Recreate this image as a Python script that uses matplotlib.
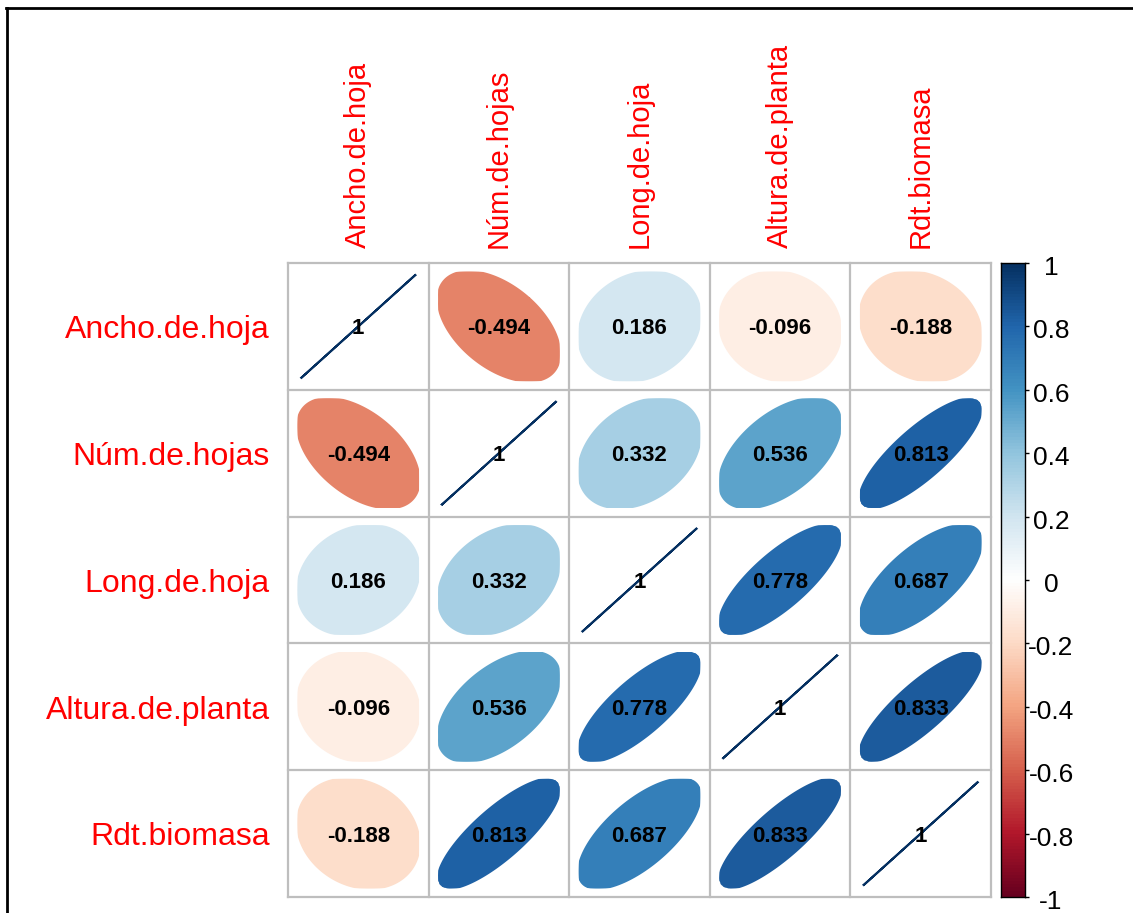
import numpy as np
import matplotlib
matplotlib.use("Agg")
import matplotlib.pyplot as plt
import matplotlib.transforms as mtransforms
from matplotlib.colors import LinearSegmentedColormap
from matplotlib.patches import Polygon, FancyBboxPatch
from matplotlib.lines import Line2D

plt.rcParams['font.family'] = ['Liberation Sans', 'DejaVu Sans']

# Variables and their correlation matrix
variables = ["Ancho.de.hoja", "Núm.de.hojas", "Long.de.hoja",
             "Altura.de.planta", "Rdt.biomasa"]
corr = np.array([
    [1.000, -0.494, 0.186, -0.096, -0.188],
    [-0.494, 1.000, 0.332, 0.536, 0.813],
    [0.186, 0.332, 1.000, 0.778, 0.687],
    [-0.096, 0.536, 0.778, 1.000, 0.833],
    [-0.188, 0.813, 0.687, 0.833, 1.000],
])

# Colour legend ticks
cbar_ticks = [-1, -0.8, -0.6, -0.4, -0.2, 0, 0.2, 0.4, 0.6, 0.8, 1]
cbar_labels = ["-1", "-0.8", "-0.6", "-0.4", "-0.2", "0",
               "0.2", "0.4", "0.6", "0.8", "1"]

# RdBu diverging palette, 200 steps
palette = ["#67001F", "#B2182B", "#D6604D", "#F4A582", "#FDDBC7", "#FFFFFF",
           "#D1E5F0", "#92C5DE", "#4393C3", "#2166AC", "#053061"]
cmap = LinearSegmentedColormap.from_list("RdBu200", palette, N=200)

W, H = 1133, 913
fig = plt.figure(figsize=(W / 100, H / 100), dpi=100)


def fx(px):
    return px / W


def fy(py):
    return 1 - py / H


# Outer frame (top and left edges)
fig.add_artist(Line2D([fx(6), 1.0], [fy(8), fy(8)], color="black", lw=2.0,
                      transform=fig.transFigure))
fig.add_artist(Line2D([fx(7), fx(7)], [fy(8), 0.0], color="black", lw=2.0,
                      transform=fig.transFigure))

# Correlation matrix panel
gx0, gx1, gy0, gy1 = 288, 991, 263, 897
ax = fig.add_axes([fx(gx0), fy(gy1), (gx1 - gx0) / W, (gy1 - gy0) / H])
n = len(variables)
ax.set_xlim(0, n)
ax.set_ylim(n, 0)
ax.axis("off")

ELL_SCALE = 0.87    # size of the ellipse relative to a cell
BOX_HALF = 0.432    # half-size of the rounded square each ellipse is clipped to
BOX_ROUND = 0.08    # corner rounding of that square

k = np.linspace(0, 2 * np.pi, 240)
for i in range(n):
    for j in range(n):
        rho = corr[i, j]
        a = np.arccos(np.clip(rho, -1, 1))
        ex = np.cos(k + a / 2) / 2 * ELL_SCALE
        ey = np.cos(k - a / 2) / 2 * ELL_SCALE
        color = cmap((rho + 1) / 2)
        cx, cy = j + 0.5, i + 0.5
        pts = np.column_stack([cx + ex, cy - ey])
        ell = Polygon(pts, closed=True, facecolor=color, edgecolor=color,
                      lw=1.5, zorder=2)
        ax.add_patch(ell)
        clip_box = FancyBboxPatch((cx - BOX_HALF, cy - BOX_HALF),
                                  2 * BOX_HALF, 2 * BOX_HALF,
                                  boxstyle=f"round,pad=0,rounding_size={BOX_ROUND}",
                                  transform=ax.transData)
        ell.set_clip_path(clip_box)
        label = "1" if rho == 1 else f"{rho:.3f}"
        ax.text(cx, cy + 0.02, label, ha="center", va="center",
                fontsize=16, fontweight="bold", color="black", zorder=4)

for t in range(n + 1):
    ax.plot([t, t], [0, n], color="#BEBEBE", lw=1.6, zorder=3, clip_on=False,
            solid_capstyle="projecting")
    ax.plot([0, n], [t, t], color="#BEBEBE", lw=1.6, zorder=3, clip_on=False,
            solid_capstyle="projecting")

for i, name in enumerate(variables):
    ax.text(-0.13, i + 0.53, name, ha="right", va="center",
            fontsize=23, color="#FF0000")
    ax.text(i + 0.5, -0.12, name, ha="center", va="bottom", rotation=90,
            fontsize=21, color="#FF0000")

# Colour legend
cax = fig.add_axes([fx(1001), fy(gy1), (1025 - 1001) / W, (gy1 - gy0) / H])
grad = np.linspace(-1, 1, 200).reshape(-1, 1)
cax.imshow(grad, cmap=cmap, vmin=-1, vmax=1, aspect="auto", origin="lower",
           extent=[0, 1, -1, 1])
cax.set_xticks([])
cax.yaxis.tick_right()
cax.set_yticks(cbar_ticks)
cax.set_yticklabels([])
cax.tick_params(axis="y", direction="out", length=3, width=1)
for s in cax.spines.values():
    s.set_linewidth(1.0)
    s.set_color("black")

label_tr = mtransforms.offset_copy(cax.get_yaxis_transform(), fig=fig,
                                   x=26, y=-5, units="dots")
for v, s in zip(cbar_ticks, cbar_labels):
    cax.text(1, v, s, transform=label_tr, ha="center", va="center",
             fontsize=19, color="black")

fig.savefig("out.png", dpi=100)
